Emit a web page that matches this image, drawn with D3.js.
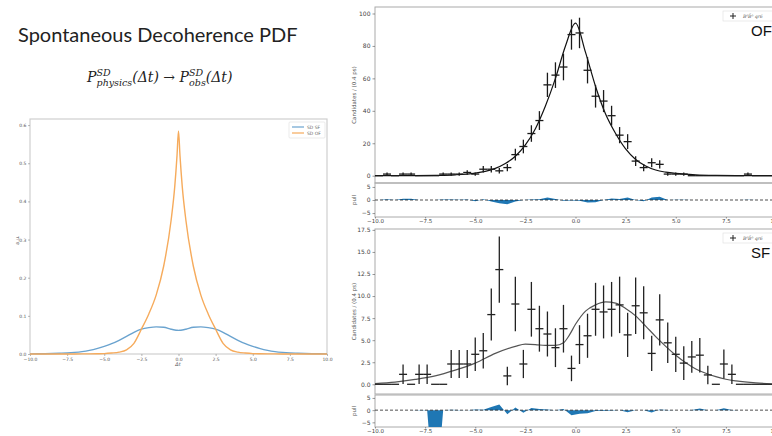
<!DOCTYPE html>
<html>
<head>
<meta charset="utf-8">
<script src="https://cdn.jsdelivr.net/npm/d3@7"></script>
<style>
  body { margin: 0; background: #fff; }
  svg { display: block; }
  .tick text { font-family: "DejaVu Sans", sans-serif; fill: #444; }
</style>
</head>
<body>
<svg id="slide" width="772" height="436"></svg>
<script>
// ---- left: SD pdf curves ----
const pdfX = [-10, -9.5, -9, -8.5, -8, -7.5, -7, -6.5, -6, -5.5, -5, -4.5, -4, -3.5, -3, -2.5, -2, -1.5, -1, -0.5, -0.25, -0.1,
  0, 0.1, 0.25, 0.5, 1, 1.5, 2, 2.5, 3, 3.5, 4, 4.5, 5, 5.5, 6, 6.5, 7, 7.5, 8, 8.5, 9, 9.5, 10];
const pdfSF = [0.0003, 0.0005, 0.0008, 0.0013, 0.002, 0.0028, 0.0042, 0.0063, 0.0095, 0.014, 0.02, 0.027, 0.036, 0.046, 0.057,
  0.065, 0.069, 0.071, 0.070, 0.065, 0.063, 0.0622,
  0.062, 0.0622, 0.063, 0.065, 0.070, 0.071, 0.069, 0.065, 0.057, 0.046, 0.036, 0.027, 0.02, 0.014, 0.0095, 0.0063, 0.0042,
  0.0028, 0.002, 0.0013, 0.0008, 0.0005, 0.0003];
const pdfOF = [0, 0, 0, 0, 0, 0, 0.0001, 0.0002, 0.0003, 0.0006, 0.001, 0.0025, 0.005, 0.011, 0.028, 0.065, 0.105, 0.155,
  0.23, 0.35, 0.44, 0.52,
  0.585, 0.52, 0.44, 0.35, 0.23, 0.155, 0.105, 0.065, 0.028, 0.011, 0.005, 0.0025, 0.001, 0.0006, 0.0003, 0.0002, 0.0001,
  0, 0, 0, 0, 0, 0];
const pdfXTicks = [-10, -7.5, -5, -2.5, 0, 2.5, 5, 7.5, 10];
const pdfYTicks = [0, 0.1, 0.2, 0.3, 0.4, 0.5, 0.6];
const pdfLegend = ["SD SF", "SD OF"];

// ---- right: binned data, 0.4 ps bins from -10 to 10 ----
const binCentres = d3.range(50).map(i => -9.8 + 0.4 * i);
const ofCounts = [0, 1, 0, 1, 1, 0, 0, 0, 1, 1, 1, 2, 1, 4, 4, 3, 5, 13, 18, 26, 34, 56, 62, 67, 87,
  88, 65, 49, 46, 37, 25, 21, 9, 5, 8, 7, 1, 1, 1, 0, 0, 0, 0, 0, 0, 0, 1, 0, 0, 0];
const ofErrors = [0, 1, 0, 1, 1, 0, 0, 0, 1, 1, 1, 1.4, 1, 2, 2, 1.7, 2.2, 3.6, 4.2, 5.1, 5.8, 7.5, 7.9, 8.2, 9.3,
  9.4, 8.1, 7, 6.8, 6.1, 5, 4.6, 3, 2.2, 2.8, 2.6, 1, 1, 1, 0, 0, 0, 0, 0, 0, 0, 1, 0, 0, 0];
const ofPull = [0, 0.3, 0, 0.5, 0.5, 0, 0, 0, 0.2, 0.2, 0.1, 0.2, -0.5, 0.3, -0.6, -1.2, -1.6, -0.6, 0, 0.2, 0.3, 1.0, 0.4, -0.3, -0.2,
  -0.3, -1.0, -0.9, 0, 0.6, 0.4, 1.0, 0, -0.5, 1.0, 1.2, 0, 0.1, 0.1, 0, 0, 0, 0, 0, 0, 0, 0.1, 0, 0, 0];
const sfCounts = [0, 0, 0, 1.13, 0, 1.13, 1.13, 0, 0, 2.3, 2.3, 2.3, 3.4, 3.8, 7.9, 13, 0.95, 9.1, 2.3, 8.5, 6.3, 5.7, 4.15, 6.3, 1.8,
  4.5, 5.5, 8.5, 8.2, 8.5, 9.0, 5.6, 8.9, 8.1, 3.5, 7.3, 4.7, 3.4, 2.4, 3.1, 3.3, 1.06, 0, 2.3, 1.13, 0, 0, 0, 0, 0];
const sfErrors = [0, 0, 0, 1.1, 0, 1.1, 1.1, 0, 0, 1.6, 1.6, 1.6, 1.9, 2.0, 2.95, 3.75, 1.05, 3.1, 1.6, 3.1, 2.6, 2.55, 2.2, 2.7, 1.45,
  2.2, 2.5, 3.0, 3.0, 3.1, 3.2, 2.5, 3.2, 3.0, 2.0, 2.9, 2.3, 2.0, 1.9, 1.8, 1.95, 1.05, 0, 1.65, 1.1, 0, 0, 0, 0, 0];
const sfPull = [0, 0, 0, 0, 0, 0.1, 0.1, -40, 0, 0.2, 0.1, 0, 0.3, 0.2, 1.3, 2.3, -1.7, 1.1, -1.1, 0.9, 0.5, 0.3, 0, 0.5, -2.1,
  -1.5, -1.3, -0.4, -0.3, -0.2, 0, -0.9, 0, 0, -1.0, 0.3, 0.1, 0, 0, 0.1, 0.7, 0, 0, 0.8, 0.1, 0, 0, 0, 0, 0];

// fit curves
const ofFitX = [-10, -9, -8, -7, -6, -5, -4.5, -4, -3.5, -3, -2.5, -2, -1.5, -1, -0.5, 0, 0.5, 1, 1.5, 2, 2.5, 3, 3.5, 4, 4.5, 5, 6, 7, 8, 9, 10];
const ofFit = [0.01, 0.03, 0.08, 0.2, 0.55, 1.6, 2.7, 4.5, 7.5, 12, 19, 29, 43, 60, 80, 94, 76, 55, 38, 26, 16.5, 10, 6, 3.5, 2.2, 1.4, 0.55, 0.2, 0.08, 0.03, 0.01];
const sfFitX = [-10, -9, -8, -7, -6, -5, -4, -3, -2.5, -2, -1.5, -1, -0.6, -0.3, 0, 0.5, 1, 1.5, 2, 2.5, 3, 3.5, 4, 4.5, 5, 5.5, 6, 6.5, 7, 7.5, 8, 9, 10];
const sfFit = [0.08, 0.25, 0.55, 0.95, 1.6, 2.4, 3.5, 4.3, 4.55, 4.5, 4.4, 4.4, 4.7, 5.6, 6.8, 8.3, 9.0, 9.33, 9.2, 8.6, 7.75, 6.6, 5.4, 4.3, 3.3, 2.45, 1.74, 1.25, 0.87, 0.57, 0.38, 0.15, 0.05];

const dtTicks = [-10, -7.5, -5, -2.5, 0, 2.5, 5, 7.5, 10];
const ofYTicks = [0, 20, 40, 60, 80, 100];
const sfYTicks = [0, 2.5, 5, 7.5, 10, 12.5, 15, 17.5];
const pullTicks = [-5, 0, 5];

const svg = d3.select("#slide");

// title + formula
svg.append("text")
  .attr("x", 18).attr("y", 42)
  .style("font-family", "Lato, 'Open Sans', sans-serif")
  .style("font-size", "20px")
  .style("fill", "#222")
  .text("Spontaneous Decoherence PDF");

const formula = svg.append("text")
  .attr("x", 87).attr("y", 82)
  .style("font-family", "'DejaVu Serif', serif")
  .style("font-style", "italic")
  .style("font-size", "14px")
  .style("fill", "#222");
formula.append("tspan").text("P");
formula.append("tspan").attr("dy", -6).style("font-size", "9.5px").text("SD");
formula.append("tspan").attr("dx", -14).attr("dy", 10).style("font-size", "9.5px").text("physics");
formula.append("tspan").attr("dy", -4).text("(Δt)");
formula.append("tspan").style("font-style", "normal").text("  → ");
formula.append("tspan").text("P");
formula.append("tspan").attr("dy", -6).style("font-size", "9.5px").text("SD");
formula.append("tspan").attr("dx", -14).attr("dy", 10).style("font-size", "9.5px").text("obs");
formula.append("tspan").attr("dy", -4).text("(Δt)");

// ---------- left chart ----------
(function () {
  const x = d3.scaleLinear().domain([-10, 10]).range([30, 327]);
  const y = d3.scaleLinear().domain([0, 0.616]).range([354, 119]);
  const g = svg.append("g");

  g.append("rect").attr("x", 30).attr("y", 119).attr("width", 297).attr("height", 235)
    .attr("fill", "none").attr("stroke", "#cfcfcf").attr("stroke-width", 1.2);

  const xa = g.append("g").attr("transform", "translate(0,354)")
    .call(d3.axisBottom(x).tickValues(pdfXTicks).tickFormat(d3.format(".1f")).tickSize(2).tickPadding(1.5));
  const ya = g.append("g").attr("transform", "translate(30,0)")
    .call(d3.axisLeft(y).tickValues(pdfYTicks).tickFormat(d3.format(".1f")).tickSize(2).tickPadding(1.5));
  [xa, ya].forEach(a => {
    a.select(".domain").remove();
    a.selectAll("line").attr("stroke", "#888").attr("stroke-width", 0.6);
    a.selectAll("text").style("font-size", "4.5px").style("fill", "#555");
  });

  g.append("text").attr("x", 178).attr("y", 366).attr("text-anchor", "middle")
    .style("font-family", "'DejaVu Sans', sans-serif").style("font-style", "italic")
    .style("font-size", "5px").style("fill", "#555").text("Δt");
  g.append("text").attr("transform", "translate(19,240) rotate(-90)").attr("text-anchor", "middle")
    .style("font-family", "'DejaVu Sans', sans-serif")
    .style("font-size", "5px").style("fill", "#555").text("a.u.");

  const line = d3.line().x((d, i) => x(pdfX[i])).y(d => y(d)).curve(d3.curveMonotoneX);
  g.append("path").datum(pdfSF).attr("d", line).attr("fill", "none")
    .attr("stroke", "#6aa3cf").attr("stroke-width", 1.4);
  g.append("path").datum(pdfOF).attr("d", line).attr("fill", "none")
    .attr("stroke", "#f6ab5c").attr("stroke-width", 1.4);

  // legend
  const lg = g.append("g").attr("transform", "translate(289,122)");
  lg.append("rect").attr("width", 36).attr("height", 16).attr("rx", 1)
    .attr("fill", "#fff").attr("stroke", "#ddd").attr("stroke-width", 0.6);
  pdfLegend.forEach((name, i) => {
    lg.append("line").attr("x1", 3).attr("x2", 15).attr("y1", 5 + i * 6).attr("y2", 5 + i * 6)
      .attr("stroke", i === 0 ? "#6aa3cf" : "#f6ab5c").attr("stroke-width", 1.2);
    lg.append("text").attr("x", 18).attr("y", 6.6 + i * 6)
      .style("font-family", "'DejaVu Sans', sans-serif").style("font-size", "4.5px").style("fill", "#666")
      .text(name);
  });
})();

// ---------- right panels ----------
const xR = d3.scaleLinear().domain([-10, 10]).range([375, 776]);

function dataPanel(opt) {
  const g = svg.append("g");
  const y = d3.scaleLinear().domain(opt.yDomain).range(opt.yRange);
  const yp = d3.scaleLinear().domain(opt.pDomain).range(opt.pRange);
  const clipId = "clip" + opt.name;
  g.append("clipPath").attr("id", clipId).append("rect")
    .attr("x", 375).attr("y", opt.pRange[1]).attr("width", 401).attr("height", opt.pRange[0] - opt.pRange[1]);

  // frames
  g.append("rect").attr("x", 375).attr("y", opt.yRange[1]).attr("width", 401)
    .attr("height", opt.yRange[0] - opt.yRange[1]).attr("fill", "none").attr("stroke", "#aaa").attr("stroke-width", 1);
  g.append("rect").attr("x", 375).attr("y", opt.pRange[1]).attr("width", 401)
    .attr("height", opt.pRange[0] - opt.pRange[1]).attr("fill", "none").attr("stroke", "#aaa").attr("stroke-width", 1);

  const styleAxis = (a, fs) => {
    a.select(".domain").remove();
    a.selectAll("line").attr("stroke", "#555").attr("stroke-width", 0.6);
    a.selectAll("text").style("font-size", fs).style("fill", "#444");
  };
  styleAxis(g.append("g").attr("transform", "translate(375,0)")
    .call(d3.axisLeft(y).tickValues(opt.yTicks).tickFormat(opt.yFormat).tickSize(2.5).tickPadding(2)), "6px");
  styleAxis(g.append("g").attr("transform", "translate(375,0)")
    .call(d3.axisLeft(yp).tickValues(pullTicks).tickFormat(d3.format("d")).tickSize(2.5).tickPadding(2)), "6px");
  styleAxis(g.append("g").attr("transform", `translate(0,${opt.pRange[0]})`)
    .call(d3.axisBottom(xR).tickValues(dtTicks).tickFormat(d3.format(".1f")).tickSize(1.5).tickPadding(0.5)), "5.5px");

  const lab = (t, cx, cy) => g.append("text").attr("transform", `translate(${cx},${cy}) rotate(-90)`)
    .attr("text-anchor", "middle").style("font-family", "'DejaVu Sans', sans-serif")
    .style("font-size", "5.5px").style("fill", "#555").text(t);
  lab("Candidates / (0.4 ps)", 356, (opt.yRange[0] + opt.yRange[1]) / 2);
  lab("pull", 356, (opt.pRange[0] + opt.pRange[1]) / 2);

  // pull fill
  const area = d3.area().x((d, i) => xR(binCentres[i])).y0(yp(0)).y1(d => yp(d));
  g.append("path").datum(opt.pull).attr("d", area).attr("fill", "#1f77b4")
    .attr("clip-path", `url(#${clipId})`);
  g.append("line").attr("x1", 375).attr("x2", 776).attr("y1", yp(0)).attr("y2", yp(0))
    .attr("stroke", "#222").attr("stroke-width", 0.8).attr("stroke-dasharray", "3,2");

  // fit
  const line = d3.line().x((d, i) => xR(opt.fitX[i])).y(d => y(d)).curve(d3.curveMonotoneX);
  g.append("path").datum(opt.fit).attr("d", line).attr("fill", "none")
    .attr("stroke", opt.fitColor).attr("stroke-width", 1.2);

  // data points
  const pts = g.append("g").attr("stroke", opt.ptColor).attr("stroke-width", 1.3);
  opt.counts.forEach((c, i) => {
    const cx = xR(binCentres[i]);
    pts.append("line").attr("x1", xR(binCentres[i] - 0.2)).attr("x2", xR(binCentres[i] + 0.2))
      .attr("y1", y(c)).attr("y2", y(c));
    if (opt.errors[i] > 0) {
      pts.append("line").attr("x1", cx).attr("x2", cx)
        .attr("y1", y(c - opt.errors[i])).attr("y2", y(c + opt.errors[i]));
    }
  });

  // legend + tag
  const lg = g.append("g").attr("transform", `translate(723,${opt.yRange[1] + 4})`);
  lg.append("rect").attr("width", 56).attr("height", 10).attr("fill", "#fff")
    .attr("stroke", "#ddd").attr("stroke-width", 0.6);
  lg.append("line").attr("x1", 7).attr("x2", 13).attr("y1", 5).attr("y2", 5).attr("stroke", "#222");
  lg.append("line").attr("x1", 10).attr("x2", 10).attr("y1", 2).attr("y2", 8).attr("stroke", "#222");
  lg.append("text").attr("x", 20).attr("y", 6.8)
    .style("font-family", "'DejaVu Serif', serif").style("font-style", "italic")
    .style("font-size", "4.5px").style("fill", "#555").text("B⁰B̄⁰ qr6");
  g.append("text").attr("x", 751).attr("y", opt.yRange[1] + 29)
    .style("font-family", "'Liberation Sans', Arial, sans-serif")
    .style("font-size", "15px").style("fill", "#111").text(opt.name);
}

dataPanel({
  name: "OF", yDomain: [-4.5, 104], yRange: [183, 7], pDomain: [-6.5, 6.5], pRange: [217, 183],
  yTicks: ofYTicks, yFormat: d3.format("d"),
  counts: ofCounts, errors: ofErrors, pull: ofPull, fitX: ofFitX, fit: ofFit,
  fitColor: "#111", ptColor: "#1a1a1a"
});
dataPanel({
  name: "SF", yDomain: [-1.1, 17.6], yRange: [394, 229], pDomain: [-6.9, 6.2], pRange: [427, 395],
  yTicks: sfYTicks, yFormat: d3.format(".1f"),
  counts: sfCounts, errors: sfErrors, pull: sfPull, fitX: sfFitX, fit: sfFit,
  fitColor: "#555", ptColor: "#222"
});

// SF x label, mostly cut off at the bottom edge
svg.append("text").attr("x", 576).attr("y", 442).attr("text-anchor", "middle")
  .style("font-family", "'DejaVu Sans', sans-serif").style("font-size", "6px").style("fill", "#555")
  .text("Δt [ps]");
</script>
</body>
</html>
